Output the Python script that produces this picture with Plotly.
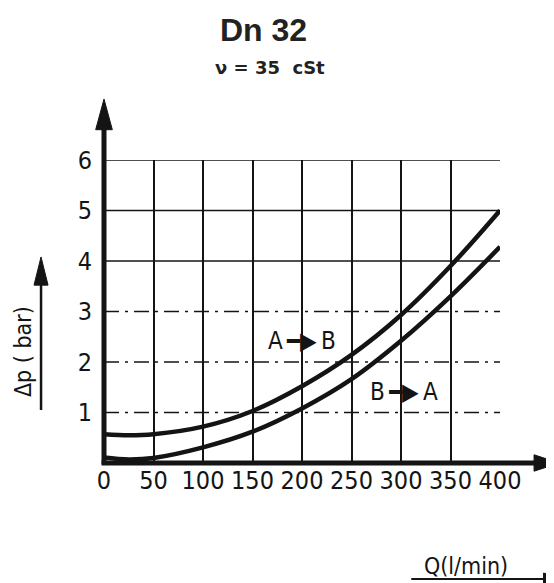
import plotly.graph_objects as go

# ---- data ----
q_values = [0, 25, 50, 100, 150, 200, 250, 300, 350, 400]
dp_a_to_b = [0.57, 0.55, 0.57, 0.72, 1.03, 1.52, 2.14, 2.93, 3.90, 5.00]
dp_b_to_a = [0.11, 0.07, 0.10, 0.31, 0.62, 1.08, 1.66, 2.42, 3.30, 4.28]
x_ticks = [0, 50, 100, 150, 200, 250, 300, 350, 400]
y_ticks = [1, 2, 3, 4, 5, 6]
y_grid_levels = [1, 2, 3, 4, 5, 6]
y_grid_dash = ["longdashdot", "longdashdot", "longdashdot", "solid", "solid", "solid"]

INK = "#141414"
NARROW = "Liberation Sans Narrow, DejaVu Sans Condensed, Roboto Condensed, Roboto, sans-serif"

fig = go.Figure()

for name, ys in [("A→B", dp_a_to_b), ("B→A", dp_b_to_a)]:
    fig.add_trace(go.Scatter(
        x=q_values, y=ys, mode="lines", name=name,
        line=dict(color=INK, width=4.5, shape="spline", smoothing=1.0),
        cliponaxis=False, showlegend=False, hoverinfo="skip",
    ))

# horizontal grid lines (some dash-dotted as in the scan)
for lvl, dsh in zip(y_grid_levels, y_grid_dash):
    fig.add_shape(type="line", xref="x", yref="y", x0=0, x1=400, y0=lvl, y1=lvl,
                  line=dict(color=INK, width=1.6, dash=dsh), layer="below")

# thick axis lines with arrowheads (paper coords)
fig.add_shape(type="line", xref="paper", yref="paper", x0=0, x1=0, y0=-0.005, y1=1.11,
              line=dict(color=INK, width=5))
fig.add_shape(type="path", xref="paper", yref="paper",
              path="M -0.021 1.100 L 0.021 1.100 L 0 1.201 Z",
              fillcolor=INK, line=dict(color=INK, width=1))
fig.add_shape(type="line", xref="paper", yref="paper", x0=-0.006, x1=1.10, y0=0, y1=0,
              line=dict(color=INK, width=5))
fig.add_shape(type="path", xref="paper", yref="paper",
              path="M 1.086 0.027 L 1.086 -0.027 L 1.150 0 Z",
              fillcolor=INK, line=dict(color=INK, width=1))

# y-axis label arrow (shaft serves as underline)
fig.add_shape(type="line", xref="paper", yref="paper", x0=-0.159, x1=-0.159, y0=0.175, y1=0.60,
              line=dict(color=INK, width=2.5))
fig.add_shape(type="path", xref="paper", yref="paper",
              path="M -0.1767 0.587 L -0.1413 0.587 L -0.159 0.680 Z",
              fillcolor=INK, line=dict(color=INK, width=1))
# x-axis label underline + arrow
fig.add_shape(type="line", xref="paper", yref="paper", x0=0.776, x1=1.12, y0=-0.3828, y1=-0.3828,
              line=dict(color=INK, width=2))
fig.add_shape(type="path", xref="paper", yref="paper",
              path="M 1.110 -0.363 L 1.110 -0.403 L 1.160 -0.383 Z",
              fillcolor=INK, line=dict(color=INK, width=1))

# titles
fig.add_annotation(text="<b>Dn 32</b>", xref="paper", yref="paper", x=0.404, y=1.429,
                   xanchor="center", yanchor="middle", showarrow=False,
                   font=dict(family="Liberation Sans, Arial, sans-serif", size=32, color="#222"))
fig.add_annotation(text="<b>ν = 35  cSt</b>", xref="paper", yref="paper", x=0.419, y=1.305,
                   xanchor="center", yanchor="middle", showarrow=False,
                   font=dict(family="DejaVu Sans, sans-serif", size=18, color="#222"))

# axis titles
fig.add_annotation(text="Δp ( bar)", xref="paper", yref="paper", x=-0.2045, y=0.366, textangle=-90,
                   xanchor="center", yanchor="middle", showarrow=False,
                   font=dict(family=NARROW, size=23, color=INK))
fig.add_annotation(text="Q(l/min)", xref="paper", yref="paper", x=0.914, y=-0.340,
                   xanchor="center", yanchor="middle", showarrow=False,
                   font=dict(family=NARROW, size=23, color=INK))

# curve labels
fig.add_annotation(text="A\u2009\u2501\u25B6\u2009B", x=200, y=2.42, xref="x", yref="y",
                   xanchor="center", yanchor="middle", showarrow=False,
                   font=dict(family=NARROW, size=24, color=INK))
fig.add_annotation(text="B\u2009\u2501\u25B6\u2009A", x=303, y=1.40, xref="x", yref="y",
                   xanchor="center", yanchor="middle", showarrow=False,
                   font=dict(family=NARROW, size=24, color=INK))

fig.update_layout(
    width=554, height=583,
    margin=dict(l=96, r=62, t=152, b=128),
    paper_bgcolor="white", plot_bgcolor="white",
    showlegend=False,
)
fig.update_xaxes(range=[0, 400], tickvals=x_ticks, ticktext=[str(v) for v in x_ticks],
                 showgrid=True, gridcolor=INK, gridwidth=1.6, zeroline=False, showline=False,
                 ticks="", ticklabelstandoff=0,
                 tickfont=dict(family=NARROW, size=25, color=INK), fixedrange=True)
fig.update_yaxes(range=[0, 6], tickvals=y_ticks, ticktext=[str(v) for v in y_ticks],
                 showgrid=False, zeroline=False, showline=False,
                 ticks="", ticklabelstandoff=11,
                 tickfont=dict(family=NARROW, size=25, color=INK), fixedrange=True)

fig.write_html("out.html")
